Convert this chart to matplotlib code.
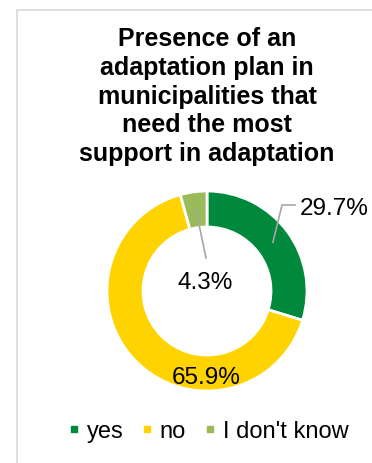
import matplotlib
matplotlib.use("Agg")
import matplotlib.pyplot as plt
from matplotlib.lines import Line2D
import numpy as np

plt.rcParams['font.family'] = ['Liberation Sans', 'DejaVu Sans']

title = "Presence of an\nadaptation plan in\nmunicipalities that\nneed the most\nsupport in adaptation"
categories = ["yes", "no", "I don't know"]
values = [29.7, 65.9, 4.3]
colors = ["#00893D", "#FFD300", "#9BBB59"]

W, H = 372, 464
fig = plt.figure(figsize=(W / 100, H / 100), dpi=100)
fig.patch.set_facecolor("white")

# light frame on the left and top
fig.add_artist(Line2D([16.5 / W, 16.5 / W, 1.0], [0.0, 1 - 10.5 / H, 1 - 10.5 / H],
                      transform=fig.transFigure, color="#D9D9D9", lw=1.2))

fig.text(207 / W, 1 - 27.5 / H, title, ha="center", va="top", fontsize=18,
         fontweight="bold", linespacing=1.245)

# donut: centre (207, 292) px, radius 100 px
ax = fig.add_axes([107 / W, 72 / H, 200 / W, 200 / H])
wedges, _ = ax.pie(values, colors=colors, startangle=90, counterclock=False,
                   radius=1.0, wedgeprops=dict(width=0.36, edgecolor="white", linewidth=2))
ax.set_xlim(-1, 1)
ax.set_ylim(-1, 1)
ax.set_aspect("equal")
ax.axis("off")

lead = "#A6A6A6"
fs = 17.5
total = sum(values)
mids = []
acc = 0
for v in values:
    mids.append(np.deg2rad(90 - (acc + v / 2) / total * 360))
    acc += v
rm = 0.82

# yes label with elbow leader
p0 = (rm * np.cos(mids[0]), rm * np.sin(mids[0]))
ax.plot([p0[0], 0.75, 0.88], [p0[1], 0.86, 0.86], color=lead, lw=1.2, clip_on=False)
ax.text(1.27, 0.83, f"{values[0]}%", ha="center", va="center", fontsize=fs)

# I don't know label inside the hole
p2 = (rm * np.cos(mids[2]), rm * np.sin(mids[2]))
ax.plot([p2[0], -0.01], [p2[1], 0.33], color=lead, lw=1.2, clip_on=False)
ax.text(-0.02, 0.09, f"{values[2]}%", ha="center", va="center", fontsize=fs)

# no label on the ring
ax.text(-0.01, -0.86, f"{values[1]}%", ha="center", va="center", fontsize=fs)

handles = [Line2D([], [], marker="s", ls="none", color=c, markersize=5) for c in colors]
fig.legend(handles, categories, loc="center", bbox_to_anchor=(208 / W, 1 - 432 / H),
           ncol=3, frameon=False, fontsize=17, handlelength=0.5, handletextpad=0.3,
           columnspacing=0.75, borderaxespad=0)

fig.savefig("out.png", dpi=100, facecolor="white")
